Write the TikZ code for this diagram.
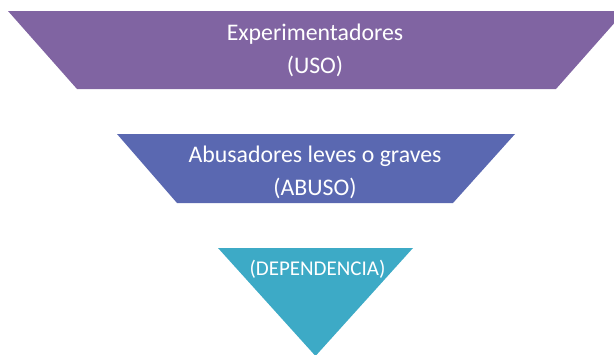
\documentclass[tikz,border=0pt]{standalone}
\usepackage{fontspec}
\setmainfont{Carlito}
\definecolor{cTop}{HTML}{8064A2}
\definecolor{cMid}{HTML}{5A68B1}
\definecolor{cBot}{HTML}{3DAAC6}
\begin{document}
\begin{tikzpicture}[x=1pt,y=-1pt,
  lbl/.style={text=white,font=\fontsize{23.8}{28}\selectfont,align=center,inner sep=0pt},
  lblsm/.style={lbl,font=\fontsize{21}{25}\selectfont}]
\useasboundingbox (0,0) rectangle (614,354);
\clip (0,0) rectangle (614,354);
\fill[cTop] (8,11) -- (625,11) -- (556,89) -- (77,89) -- cycle;
\fill[cMid] (117,134) -- (515,134) -- (453,203) -- (177,203) -- cycle;
\fill[cBot] (218,248) -- (413,248) -- (315.5,356) -- cycle;
\node[lbl] (t1) at (315,34) {Experimentadores};
\node[lbl] (t2) at (315,66) {(USO)};
\node[lbl] (m1) at (315,156) {Abusadores leves o graves};
\node[lbl] (m2) at (315,188) {(ABUSO)};
\node[lblsm] (b1) at (317.5,269) {(DEPENDENCIA)};
\end{tikzpicture}
\end{document}
